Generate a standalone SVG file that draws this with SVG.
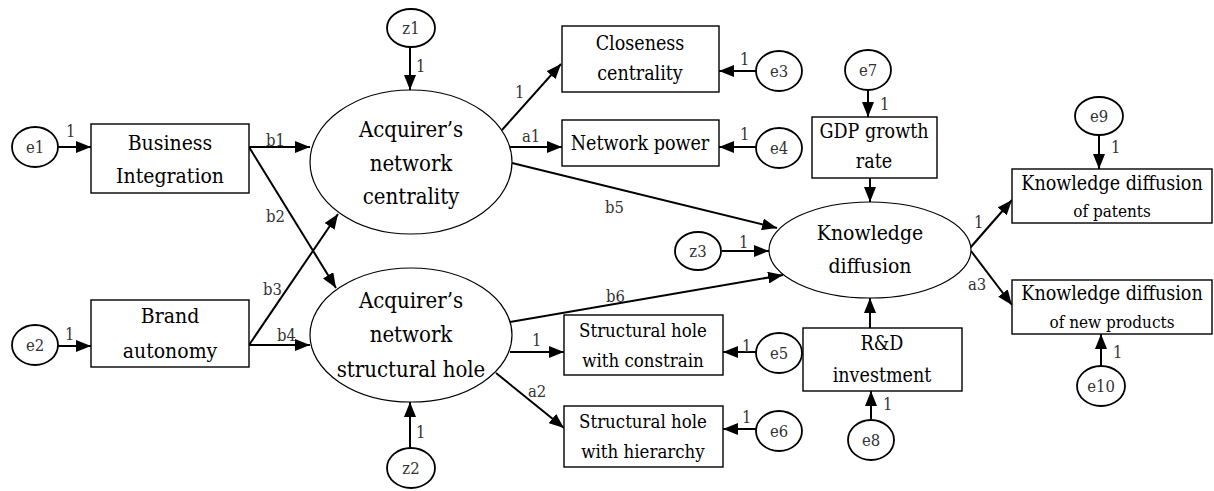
<svg xmlns="http://www.w3.org/2000/svg" width="1214" height="491" viewBox="0 0 1214 491">
<style>
.box{fill:#fff;stroke:#000;stroke-width:1.4}
.big{fill:#fff;stroke:#000;stroke-width:1.2}
.err{fill:#fff;stroke:#000;stroke-width:1.8}
.t{fill:#000;text-anchor:middle}
.s{fill:#333;font-size:16.5px}
.c{text-anchor:middle}
.ln{stroke:#000;stroke-width:2;fill:none;marker-end:url(#ah)}
</style>
<defs>
<marker id="ah" markerUnits="userSpaceOnUse" markerWidth="15" markerHeight="12" refX="15" refY="6" orient="auto">
<path d="M0,0 L15,6 L0,12 z" fill="#000"/>
</marker>
</defs>
<rect width="1214" height="491" fill="#fff"/>
<g font-family="'DejaVu Serif', 'Liberation Serif', serif" font-stretch="condensed">
<g id="connectors">
<line class="ln" x1="58" y1="147" x2="91" y2="147"/>
<line class="ln" x1="58" y1="346" x2="91" y2="346"/>
<line class="ln" x1="249" y1="147" x2="310" y2="147"/>
<line class="ln" x1="249" y1="147" x2="336" y2="288"/>
<line class="ln" x1="249" y1="345" x2="338" y2="214"/>
<line class="ln" x1="249" y1="345" x2="310" y2="345"/>
<line class="ln" x1="410" y1="47" x2="410" y2="90"/>
<line class="ln" x1="410" y1="448" x2="410" y2="402"/>
<line class="ln" x1="502" y1="130" x2="561" y2="64"/>
<line class="ln" x1="510" y1="147" x2="562" y2="147"/>
<line class="ln" x1="512" y1="163" x2="777" y2="228"/>
<line class="ln" x1="756" y1="71" x2="719" y2="71"/>
<line class="ln" x1="756" y1="147" x2="719" y2="147"/>
<line class="ln" x1="510" y1="322" x2="783" y2="275"/>
<line class="ln" x1="510" y1="352" x2="564" y2="352"/>
<line class="ln" x1="496" y1="373" x2="564" y2="428"/>
<line class="ln" x1="756" y1="352" x2="723" y2="352"/>
<line class="ln" x1="756" y1="429" x2="723" y2="429"/>
<line class="ln" x1="722" y1="251" x2="769" y2="251"/>
<line class="ln" x1="868" y1="90" x2="868" y2="117"/>
<line class="ln" x1="870" y1="178" x2="870" y2="202"/>
<line class="ln" x1="870" y1="328" x2="870" y2="298"/>
<line class="ln" x1="871" y1="420" x2="871" y2="391"/>
<line class="ln" x1="970" y1="248" x2="1012" y2="200"/>
<line class="ln" x1="971" y1="251" x2="1012" y2="305"/>
<line class="ln" x1="1099" y1="135" x2="1099" y2="169"/>
<line class="ln" x1="1101" y1="367" x2="1101" y2="334"/>
<g class="s">
<text x="66" y="137">1</text>
<text x="65" y="340">1</text>
<text x="266" y="146">b1</text>
<text x="266" y="222">b2</text>
<text x="263" y="295">b3</text>
<text x="277" y="341">b4</text>
<text x="416" y="72">1</text>
<text x="416" y="438">1</text>
<text x="515" y="98">1</text>
<text x="522" y="142">a1</text>
<text x="605" y="213">b5</text>
<text x="740" y="65">1</text>
<text x="740" y="140">1</text>
<text x="606" y="302">b6</text>
<text x="532" y="346">1</text>
<text x="528" y="397">a2</text>
<text x="742" y="352">1</text>
<text x="742" y="423">1</text>
<text x="739" y="248">1</text>
<text x="880" y="110">1</text>
<text x="883" y="410">1</text>
<text x="974" y="228">1</text>
<text x="968" y="290">a3</text>
<text x="1111" y="153">1</text>
<text x="1113" y="358">1</text>
</g>
</g>

<g id="e1"><ellipse class="err" cx="35" cy="147" rx="23" ry="20"/><text class="s c" x="35" y="153">e1</text></g>
<g id="e2"><ellipse class="err" cx="35" cy="345" rx="23" ry="20"/><text class="s c" x="35" y="351">e2</text></g>
<g id="z1"><ellipse class="err" cx="411" cy="28" rx="24" ry="19"/><text class="s c" x="411" y="34">z1</text></g>
<g id="z2"><ellipse class="err" cx="411" cy="468" rx="24" ry="20"/><text class="s c" x="411" y="474">z2</text></g>
<g id="e3"><ellipse class="err" cx="779" cy="71" rx="23" ry="20"/><text class="s c" x="779" y="77">e3</text></g>
<g id="e4"><ellipse class="err" cx="779" cy="148" rx="23" ry="20"/><text class="s c" x="779" y="154">e4</text></g>
<g id="e5"><ellipse class="err" cx="779" cy="353" rx="23" ry="20"/><text class="s c" x="779" y="359">e5</text></g>
<g id="e6"><ellipse class="err" cx="779" cy="431" rx="23" ry="20"/><text class="s c" x="779" y="437">e6</text></g>
<g id="z3"><ellipse class="err" cx="698" cy="251" rx="23" ry="19"/><text class="s c" x="698" y="257">z3</text></g>
<g id="e7"><ellipse class="err" cx="868" cy="70" rx="23" ry="20"/><text class="s c" x="868" y="76">e7</text></g>
<g id="e8"><ellipse class="err" cx="871" cy="440" rx="23" ry="20"/><text class="s c" x="871" y="446">e8</text></g>
<g id="e9"><ellipse class="err" cx="1099" cy="116" rx="24" ry="19"/><text class="s c" x="1099" y="122">e9</text></g>
<g id="e10"><ellipse class="err" cx="1101" cy="386" rx="24" ry="20"/><text class="s c" x="1101" y="392">e10</text></g>

<g id="business-integration"><rect class="box" x="91" y="124" width="158" height="69"/>
<text class="t" font-size="21" x="170" y="150">Business</text><text class="t" font-size="21" x="170" y="183">Integration</text></g>
<g id="brand-autonomy"><rect class="box" x="91" y="300" width="158" height="67"/>
<text class="t" font-size="21" x="170" y="323">Brand</text><text class="t" font-size="21" x="170" y="358">autonomy</text></g>

<g id="network-centrality"><ellipse class="big" cx="411" cy="162" rx="101" ry="72"/>
<text class="t" font-size="22" x="411" y="137">Acquirer’s</text><text class="t" font-size="22" x="411" y="171">network</text><text class="t" font-size="22" x="411" y="204">centrality</text></g>
<g id="network-structural-hole"><ellipse class="big" cx="411" cy="335" rx="101" ry="67"/>
<text class="t" font-size="22" x="411" y="308">Acquirer’s</text><text class="t" font-size="22" x="411" y="342">network</text><text class="t" font-size="22" x="411" y="377">structural hole</text></g>

<g id="closeness-centrality"><rect class="box" x="562" y="26" width="157" height="66"/>
<text class="t" font-size="19.5" x="640" y="50">Closeness</text><text class="t" font-size="19.5" x="640" y="80">centrality</text></g>
<g id="network-power"><rect class="box" x="562" y="120" width="157" height="46"/>
<text class="t" font-size="19.5" x="640" y="150">Network power</text></g>
<g id="sh-constrain"><rect class="box" x="564" y="315" width="159" height="60"/>
<text class="t" font-size="18.5" x="643" y="337">Structural hole</text><text class="t" font-size="18.5" x="643" y="367">with constrain</text></g>
<g id="sh-hierarchy"><rect class="box" x="564" y="406" width="159" height="61"/>
<text class="t" font-size="18.5" x="643" y="428">Structural hole</text><text class="t" font-size="18.5" x="643" y="458">with hierarchy</text></g>

<g id="knowledge-diffusion"><ellipse class="big" cx="870" cy="250" rx="101" ry="48"/>
<text class="t" font-size="21" x="870" y="240">Knowledge</text><text class="t" font-size="21" x="870" y="273">diffusion</text></g>
<g id="gdp-growth-rate"><rect class="box" x="812" y="117" width="125" height="61"/>
<text class="t" font-size="19.5" x="874" y="138">GDP growth</text><text class="t" font-size="19.5" x="874" y="168">rate</text></g>
<g id="rd-investment"><rect class="box" x="803" y="328" width="159" height="63"/>
<text class="t" font-size="19.5" x="882" y="350">R&amp;D</text><text class="t" font-size="19.5" x="882" y="382">investment</text></g>

<g id="kd-patents"><rect class="box" x="1012" y="169" width="200" height="54"/>
<text class="t" font-size="19.5" x="1112" y="190">Knowledge diffusion</text><text class="t" font-size="17" x="1112" y="217">of patents</text></g>
<g id="kd-new-products"><rect class="box" x="1012" y="280" width="200" height="54"/>
<text class="t" font-size="19.5" x="1112" y="300">Knowledge diffusion</text><text class="t" font-size="17" x="1112" y="328">of new products</text></g>
</g>
</svg>
